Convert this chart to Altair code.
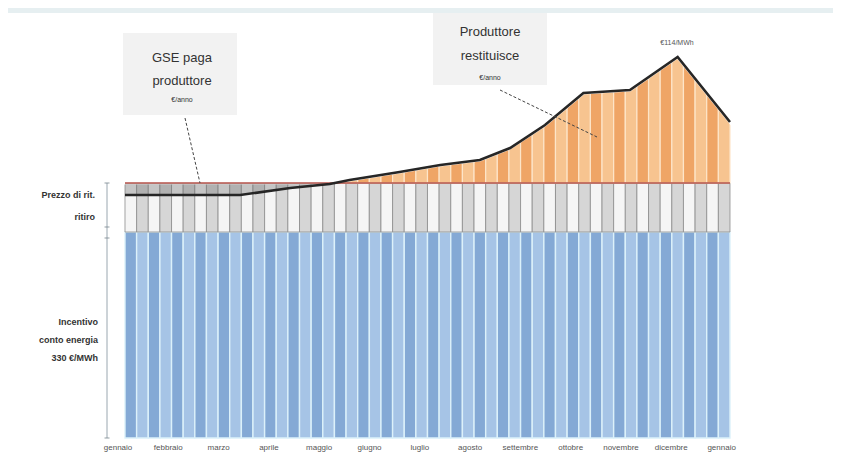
import altair as alt
import pandas as pd

# ---- data (schematic units, baseline = 0) ----
n_weeks = 52
incentivo = 206          # top of the blue "Incentivo conto energia" block
prezzo_minimo = 255      # top of the grey "Prezzo di ritiro" block
line_x = [0, 9.9, 14.2, 17.6, 19.3, 23.6, 27.1, 30.5, 33.1, 36.1, 39.4, 43.4, 47.5, 52]
line_y = [243, 243, 250, 254, 258, 266, 273, 278, 290, 313, 345, 348, 381, 316]
month_labels = ["gennaio", "febbraio", "marzo", "aprile", "maggio", "giugno", "luglio",
                "agosto", "settembre", "ottobre", "novembre", "dicembre", "gennaio"]
month_pos = [-0.6, 3.72, 8.05, 12.37, 16.69, 21.02, 25.34, 29.66, 33.98, 38.31, 42.63, 46.95, 51.28]
y_top = 430

FONT = "Liberation Sans"
xs = alt.Scale(domain=[-1.461, 52.43], nice=False, zero=False)
ys = alt.Scale(domain=[0, y_top], nice=False, zero=False)

bars = pd.DataFrame({"i": list(range(n_weeks))})
bars["x1"] = bars["i"] + 1
bars["odd"] = bars["i"] % 2
line_df = pd.DataFrame({"x": line_x, "y": line_y})
months_df = pd.DataFrame({"pos": month_pos, "month": month_labels})
one = pd.DataFrame({"a": [0]})

def barlayer(y0, y1, c_even, c_odd, stroke, sw):
    return alt.Chart(bars).transform_calculate(
        y0=str(y0), y1=str(y1),
        fill=f"datum.odd == 1 ? '{c_odd}' : '{c_even}'"
    ).mark_bar(stroke=stroke, strokeWidth=sw).encode(
        x=alt.X("i:Q", scale=xs, axis=None),
        x2="x1:Q",
        y=alt.Y("y0:Q", scale=ys, axis=None),
        y2="y1:Q",
        color=alt.Color("fill:N", scale=None, legend=None),
    )

blue = barlayer(0, incentivo, "#84a9d5", "#a6c4e6", "#dcf1fa", 1.4)
grey = barlayer(incentivo, prezzo_minimo, "#f5f5f5", "#d6d6d6", "#8c8c8c", 0.8)
orange = barlayer(prezzo_minimo, y_top, "#efa566", "#f7c490", "#fde5c9", 1.2)

mask = alt.Chart(line_df).transform_calculate(
    lo=f"max(datum.y, {prezzo_minimo})", hi=str(y_top)
).mark_area(color="white", opacity=1, stroke="white", strokeWidth=3).encode(
    x=alt.X("x:Q", scale=xs, axis=None),
    y=alt.Y("lo:Q", scale=ys, axis=None),
    y2="hi:Q",
)

gse_band = alt.Chart(line_df).transform_calculate(
    lo=f"min(datum.y, {prezzo_minimo})", hi=str(prezzo_minimo)
).mark_area(color="#6e6e6e", opacity=0.35).encode(
    x=alt.X("x:Q", scale=xs, axis=None),
    y=alt.Y("lo:Q", scale=ys, axis=None),
    y2="hi:Q",
)

price_line = alt.Chart(pd.DataFrame({"x0": [0], "x1": [n_weeks], "y": [prezzo_minimo]})).mark_rule(
    color="#b5524a", strokeWidth=1.5
).encode(
    x=alt.X("x0:Q", scale=xs, axis=None), x2="x1:Q", y=alt.Y("y:Q", scale=ys, axis=None)
)

main_line = alt.Chart(line_df).mark_line(color="#262626", strokeWidth=2.6).encode(
    x=alt.X("x:Q", scale=xs, axis=None), y=alt.Y("y:Q", scale=ys, axis=None)
)

# left vertical guide with small ticks
guide = alt.Chart(pd.DataFrame({"y0": [0], "y1": [prezzo_minimo]})).mark_rule(
    color="#9aa7b0", strokeWidth=1
).encode(x=alt.value(-1), y=alt.Y("y0:Q", scale=ys, axis=None), y2="y1:Q")
guide_ticks = alt.Chart(pd.DataFrame({"y": [0, incentivo - 6, incentivo + 5, prezzo_minimo]})).mark_tick(
    color="#7d8a93", thickness=1.2, size=5, orient="horizontal"
).encode(x=alt.value(-1), y=alt.Y("y:Q", scale=ys, axis=None))

month_text = alt.Chart(months_df).mark_text(
    baseline="top", fontSize=8, color="#555555", font=FONT
).encode(x=alt.X("pos:Q", scale=xs, axis=None), y=alt.value(436), text="month:N")

header = alt.Chart(one).mark_rect(color="#e6eff1").encode(
    x=alt.value(-108), x2=alt.value(725), y=alt.value(0), y2=alt.value(5)
)

def txt(px, py, s, size, weight="normal", align="center", color="#333333"):
    return alt.Chart(one).mark_text(
        fontSize=size, fontWeight=weight, align=align, baseline="middle", color=color, font=FONT
    ).encode(x=alt.value(px), y=alt.value(py), text=alt.value(s))

box1 = alt.Chart(one).mark_rect(color="#f2f2f2").encode(
    x=alt.value(15), x2=alt.value(129), y=alt.value(25), y2=alt.value(107)
)
box2 = alt.Chart(one).mark_rect(color="#f2f2f2").encode(
    x=alt.value(325), x2=alt.value(439), y=alt.value(5), y2=alt.value(77)
)
lead1 = alt.Chart(one).mark_rule(strokeDash=[3, 2], color="#444444", strokeWidth=1).encode(
    x=alt.value(77), x2=alt.value(92), y=alt.value(110), y2=alt.value(175)
)
lead2 = alt.Chart(one).mark_rule(strokeDash=[3, 2], color="#444444", strokeWidth=1).encode(
    x=alt.value(392), x2=alt.value(489), y=alt.value(82), y2=alt.value(129)
)

texts = [
    txt(74, 50, "GSE paga", 13),
    txt(74, 73, "produttore", 13),
    txt(74, 92, "€/anno", 7),
    txt(382, 24, "Produttore", 13),
    txt(382, 48, "restituisce", 13),
    txt(382, 70, "€/anno", 7),
    txt(569, 35, "€114/MWh", 7, color="#555555"),
    txt(-13, 187, "Prezzo di rit.", 9, "bold", "right"),
    txt(-13, 209, "ritiro", 9, "bold", "right"),
    txt(-10, 314, "Incentivo", 9, "bold", "right"),
    txt(-10, 332, "conto energia", 9, "bold", "right"),
    txt(-10, 350, "330 €/MWh", 9, "bold", "right"),
]

chart = alt.layer(
    blue, grey, orange, mask, gse_band, price_line, main_line, header,
    guide, guide_ticks, month_text, box1, box2, lead1, lead2, *texts
).properties(
    width=627, height=430,
    padding={"left": 100, "top": 0, "right": 98, "bottom": 15},
    autosize="none",
).configure_view(stroke=None)

chart.save("out.html", embed_options={"renderer": "svg", "actions": False})
